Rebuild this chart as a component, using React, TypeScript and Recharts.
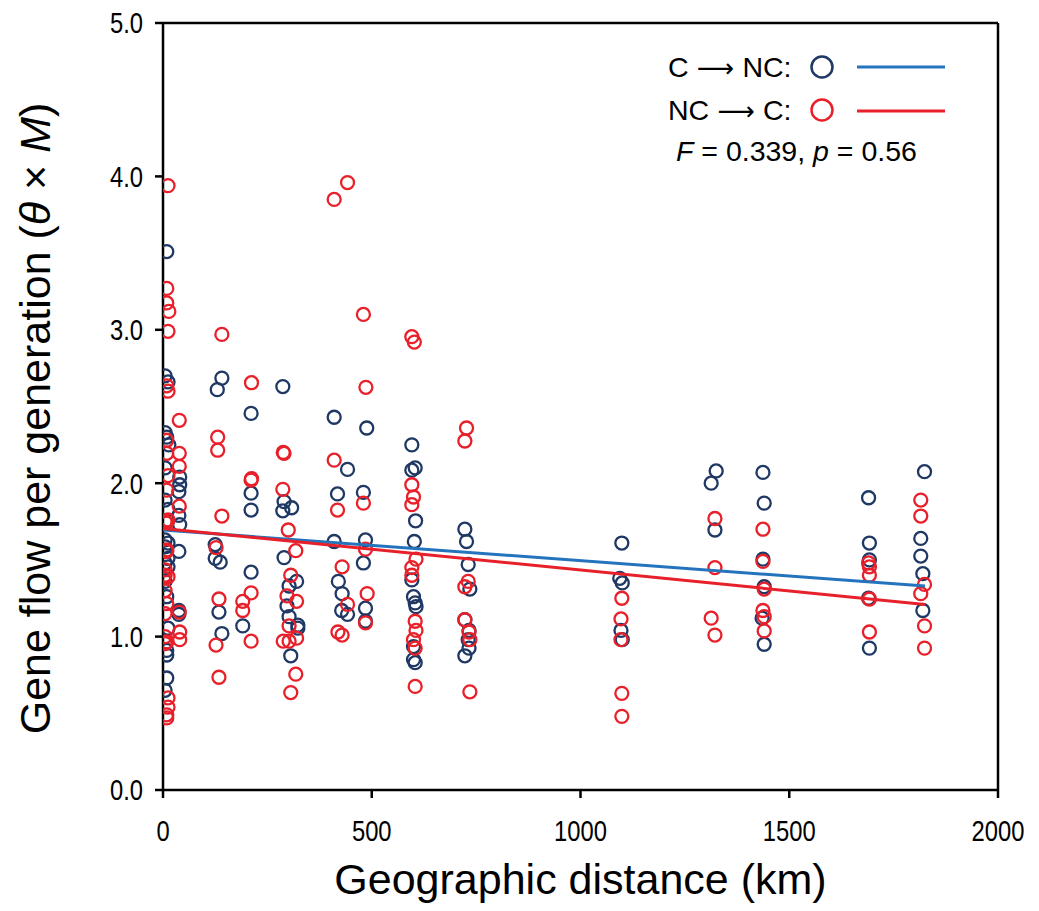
import React from 'react';
import {
  ScatterChart,
  Scatter,
  XAxis,
  YAxis,
  ReferenceLine,
  Customized,
} from 'recharts';

// C -> NC pairs (km, theta x M)
const cncKm = [
  9, 5, 12, 5, 9, 14, 5, 40, 40, 38, 5, 12, 38, 40, 5, 12, 5, 38, 12, 5, 12, 5, 9, 38, 38, 12, 9, 9, 9, 5,
  141, 130, 125, 125, 137, 134, 141, 191, 211, 211, 211, 211,
  287, 290, 287, 308, 290, 320, 302, 297, 302, 323, 323, 306,
  410, 418, 410, 442, 420, 429, 428, 442,
  488, 480, 485, 480, 485, 485,
  596, 596, 604, 605, 602, 596, 600, 604, 606, 600, 600, 604,
  723, 727, 731, 735, 723, 733, 731, 733, 723,
  1099, 1094, 1100, 1097, 1100,
  1325, 1313, 1322,
  1437, 1440, 1437, 1440, 1435, 1440,
  1690, 1692, 1692, 1690, 1692,
  1824, 1815, 1815, 1820, 1820,
];
const cncFlow = [
  3.51, 2.7, 2.66, 2.33, 2.3, 2.25, 2.1, 2.04, 1.99, 1.945, 1.89, 1.83, 1.79, 1.73, 1.63, 1.61, 1.585, 1.555, 1.51, 1.48, 1.455, 1.36, 1.26, 1.17, 1.145, 1.055, 0.91, 0.88, 0.73, 0.65,
  2.685, 2.61, 1.6, 1.51, 1.485, 1.16, 1.02, 1.07, 2.455, 1.935, 1.825, 1.42,
  2.63, 1.88, 1.82, 1.84, 1.515, 1.36, 1.33, 1.2, 1.13, 1.075, 1.055, 0.875,
  2.43, 1.93, 1.62, 2.09, 1.36, 1.28, 1.17, 1.145,
  2.36, 1.94, 1.63, 1.48, 1.185, 1.1,
  2.25, 2.085, 2.1, 1.755, 1.62, 1.37, 1.26, 1.22, 1.195, 0.935, 0.85, 0.83,
  1.7, 1.62, 1.47, 1.31, 1.11, 1.04, 0.98, 0.925, 0.875,
  1.61, 1.38, 1.35, 1.04, 0.98,
  2.08, 2.0, 1.695,
  2.07, 1.87, 1.505, 1.325, 1.12, 0.95,
  1.905, 1.61, 1.5, 1.25, 0.925,
  2.075, 1.64, 1.525, 1.41, 1.17,
];

// NC -> C pairs
const ncKm = [
  12, 9, 9, 14, 12, 9, 12, 39, 9, 9, 39, 39, 12, 9, 39, 5, 12, 9, 9, 9, 5, 5, 12, 2, 5, 9, 5, 39, 40, 40, 9, 5, 5, 12, 12, 9, 9,
  141, 131, 131, 141, 127, 134, 127, 134, 191, 191,
  212, 212, 211, 211, 211,
  288, 290, 287, 300, 318, 306, 297, 320, 302, 320, 288, 302, 318, 306,
  442, 410, 410, 418, 429, 442, 419, 429,
  480, 486, 480, 485, 489, 485,
  596, 602, 596, 600, 596, 606, 596, 596, 604, 606, 600, 604, 604,
  727, 723, 731, 723, 723, 733, 735, 735,
  1099, 1097, 1097, 1099, 1099,
  1322, 1322, 1313, 1322,
  1437, 1437, 1440, 1437, 1440, 1440,
  1690, 1692, 1692, 1692, 1692,
  1815, 1815, 1824, 1815, 1824, 1824,
];
const ncFlow = [
  3.94, 3.27, 3.175, 3.12, 2.99, 2.635, 2.6, 2.41, 2.28, 2.195, 2.195, 2.11, 2.05, 1.955, 1.85, 1.75, 1.76, 1.74, 1.565, 1.555, 1.435, 1.4, 1.39, 1.38, 1.3, 1.215, 1.15, 1.16, 1.03, 0.98, 0.965, 0.955, 1.0, 0.6, 0.54, 0.49, 0.47,
  2.97, 2.3, 2.215, 1.786, 1.58, 1.245, 0.945, 0.735, 1.23, 1.17,
  2.655, 2.03, 2.02, 1.285, 0.97,
  2.2, 2.195, 1.96, 1.695, 1.56, 1.4, 1.265, 1.23, 1.07, 0.99, 0.97, 0.97, 0.755, 0.635,
  3.96, 3.85, 2.15, 1.825, 1.455, 1.21, 1.03, 1.01,
  3.1, 2.625, 1.87, 1.57, 1.28, 1.09,
  2.955, 2.92, 1.99, 1.91, 1.86, 1.505, 1.45, 1.4, 1.1, 1.04, 0.98, 0.925, 0.675,
  2.36, 2.275, 1.36, 1.325, 1.11, 1.03, 0.98, 0.64,
  1.25, 1.115, 0.98, 0.63, 0.48,
  1.77, 1.45, 1.12, 1.01,
  1.7, 1.49, 1.31, 1.17, 1.13, 1.037,
  1.48, 1.455, 1.4, 1.245, 1.03,
  1.89, 1.786, 1.34, 1.28, 1.07, 0.925,
];

// regression fits
const fitKm = [0, 1825];
const cncFit = [1.695, 1.33];
const ncFit = [1.705, 1.21];

const xTicks = [0, 500, 1000, 1500, 2000];
const yTicks = [0, 1, 2, 3, 4, 5];

const NAVY = '#1f3864';
const RED = '#e8202a';
const BLUE = '#2473bd';
const FONT = '"Liberation Sans", Arial, sans-serif';
const TICK_FS = 29;
const SQUEEZE = 0.82; // tick digits in the figure look narrow

const toPoints = (xs: number[], ys: number[]) => xs.map((x, i) => ({ x, y: ys[i] }));

const cncData = toPoints(cncKm, cncFlow);
const ncData = toPoints(ncKm, ncFlow);
const cncLine = toPoints(fitKm, cncFit);
const ncLine = toPoints(fitKm, ncFit);

const ring = (color: string) => (props: any) => (
  <circle cx={props.cx} cy={props.cy} r={6.5} fill="none" stroke={color} strokeWidth={2.3} />
);

const XTick = ({ x, y, payload }: any) => (
  <text
    x={x}
    y={y}
    dy="0.71em"
    textAnchor="middle"
    fontFamily={FONT}
    fontSize={TICK_FS}
    fill="#000"
    transform={`translate(${x},0) scale(${SQUEEZE},1) translate(${-x},0)`}
  >
    {payload.value}
  </text>
);

const YTick = ({ x, y, payload }: any) => (
  <text
    x={x}
    y={y}
    dy="0.36em"
    textAnchor="end"
    fontFamily={FONT}
    fontSize={TICK_FS}
    fill="#000"
    transform={`translate(${x},0) scale(${SQUEEZE},1) translate(${-x},0)`}
  >
    {payload.value.toFixed(1)}
  </text>
);

const YTitle = ({ viewBox }: any) => {
  const cx = 42;
  const cy = viewBox.y + viewBox.height / 2 + 12;
  return (
    <text
      x={cx}
      y={cy}
      transform={`rotate(-90, ${cx}, ${cy})`}
      textAnchor="middle"
      fontFamily={FONT}
      fontSize={43}
      fill="#000"
    >
      Gene flow per generation (<tspan fontStyle="italic">θ</tspan> × <tspan fontStyle="italic">M</tspan>)
    </text>
  );
};

const Arrow = () => (
  <tspan fontFamily='"DejaVu Sans", sans-serif' fontSize={26}>
    {' \u27F6 '}
  </tspan>
);

const LegendBox = () => (
  <g fontFamily={FONT} fontSize={28.5} fill="#000">
    <text x={660} y={69}>
      C<Arrow />NC:
    </text>
    <circle cx={814} cy={59} r={10.5} fill="none" stroke={NAVY} strokeWidth={2.5} />
    <line x1={849} x2={937} y1={59} y2={59} stroke={BLUE} strokeWidth={3} />
    <text x={660} y={112}>
      NC<Arrow />C:
    </text>
    <circle cx={814} cy={102} r={10.5} fill="none" stroke={RED} strokeWidth={2.5} />
    <line x1={849} x2={937} y1={103} y2={103} stroke={RED} strokeWidth={3} />
    <text x={668} y={153}>
      <tspan fontStyle="italic">F</tspan> = 0.339, <tspan fontStyle="italic">p</tspan> = 0.56
    </text>
  </g>
);

export default function App() {
  const axisStyle = { stroke: '#000', strokeWidth: 2.5 };
  return (
    <div style={{ width: 1023, height: 895, background: '#fff' }}>
      <ScatterChart width={1023} height={895} margin={{ top: 15, right: 33, bottom: 0, left: 55 }}>
        <XAxis
          type="number"
          dataKey="x"
          domain={[0, 2000]}
          ticks={xTicks}
          height={113}
          tick={<XTick />}
          tickSize={8}
          tickMargin={22}
          axisLine={axisStyle}
          tickLine={axisStyle}
          allowDataOverflow
          label={{
            value: 'Geographic distance (km)',
            position: 'insideBottom',
            offset: 9,
            fontSize: 43,
            fontFamily: FONT,
            fill: '#000',
          }}
        />
        <YAxis
          type="number"
          dataKey="y"
          domain={[0, 5]}
          ticks={yTicks}
          width={100}
          tick={<YTick />}
          tickSize={8}
          tickMargin={12}
          axisLine={axisStyle}
          tickLine={axisStyle}
          allowDataOverflow
          label={<YTitle />}
        />
        <ReferenceLine x={2000} stroke="#000" strokeWidth={2.5} />
        <ReferenceLine y={5} stroke="#000" strokeWidth={2.5} />
        <Scatter data={cncData} shape={ring(NAVY)} isAnimationActive={false} />
        <Scatter data={ncData} shape={ring(RED)} isAnimationActive={false} />
        <Scatter
          data={cncLine}
          line={{ stroke: BLUE, strokeWidth: 3 }}
          shape={() => null}
          isAnimationActive={false}
        />
        <Scatter
          data={ncLine}
          line={{ stroke: RED, strokeWidth: 3 }}
          shape={() => null}
          isAnimationActive={false}
        />
        <Customized component={LegendBox} />
      </ScatterChart>
    </div>
  );
}
